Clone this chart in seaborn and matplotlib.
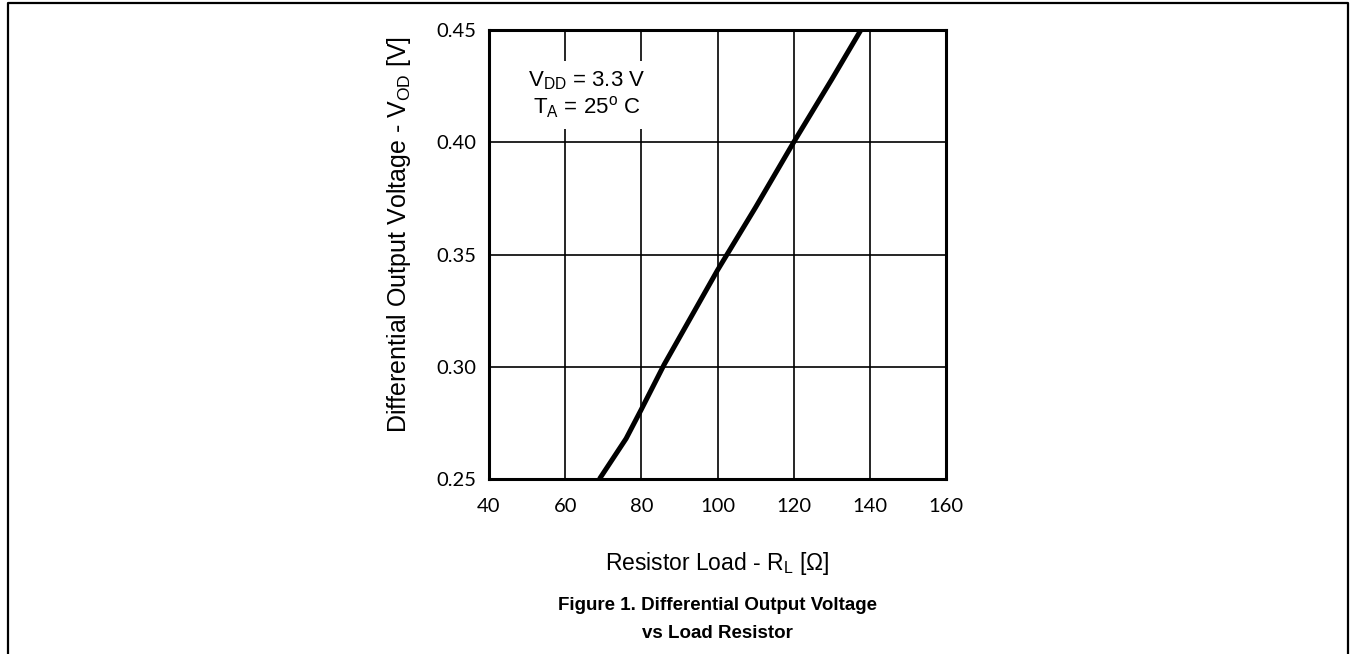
import pandas as pd
import matplotlib.pyplot as plt
import matplotlib.lines as mlines
import seaborn as sns

# Values
load_ohm = [69, 76, 80, 86, 90, 100, 110, 120, 130, 138]
vod_volt = [0.250, 0.268, 0.281, 0.301, 0.313, 0.343, 0.371, 0.400, 0.428, 0.451]

x_ticks = [40, 60, 80, 100, 120, 140, 160]
y_ticks = [0.25, 0.30, 0.35, 0.40, 0.45]

df = pd.DataFrame({'RL': load_ohm, 'VOD': vod_volt})

sns.set_style('white')
plt.rcParams['font.family'] = ['Liberation Sans', 'DejaVu Sans']
plt.rcParams['text.color'] = 'black'
plt.rcParams['axes.labelcolor'] = 'black'
plt.rcParams['mathtext.fontset'] = 'custom'
plt.rcParams['mathtext.rm'] = 'Liberation Sans'
plt.rcParams['mathtext.it'] = 'Liberation Sans:italic'
plt.rcParams['mathtext.bf'] = 'Liberation Sans:bold'

fig = plt.figure(figsize=(13.53, 6.54), dpi=100)
ax = fig.add_axes([489 / 1353, 1 - 479 / 654, 457 / 1353, 449 / 654])

sns.lineplot(data=df, x='RL', y='VOD', ax=ax, color='black', linewidth=3.6,
             solid_capstyle='butt', zorder=3)

ax.set_xlim(40, 160)
ax.set_ylim(0.25, 0.45)
ax.set_xticks(x_ticks)
ax.set_yticks(y_ticks)
ax.set_yticklabels([f'{v:.2f}' for v in y_ticks])
ax.grid(True, color='black', linewidth=1.2)
ax.set_axisbelow(True)
for s in ax.spines.values():
    s.set_visible(True)
    s.set_color('black')
    s.set_linewidth(2.2)
ax.tick_params(axis='both', length=0, labelsize=14.5, colors='black')
ax.tick_params(axis='y', pad=9)
ax.tick_params(axis='x', pad=14)
for lab in ax.get_xticklabels() + ax.get_yticklabels():
    lab.set_fontfamily(['Lato', 'DejaVu Sans'])

ax.set_xlabel(r'Resistor Load - R$_{\mathrm{L}}$ [Ω]', fontsize=16.5, labelpad=25)
ax.set_ylabel(r'Differential Output Voltage - V$_{\mathrm{OD}}$ [V]', fontsize=18,
              labelpad=15)
ax.yaxis.set_label_coords(-0.166, 0.545)

ax.text(0.2144, 0.856, 'V$_{\\mathrm{DD}}$ = 3.3 V\nT$_{\\mathrm{A}}$ = 25$^{\\mathrm{o}}$ C',
        transform=ax.transAxes, ha='center', va='center', fontsize=16,
        linespacing=1.15, zorder=4,
        bbox=dict(facecolor='white', edgecolor='none', pad=6))

fig.text(717 / 1353, 1 - 606 / 654, 'Figure 1. Differential Output Voltage',
         ha='center', va='center', fontsize=13.5, fontweight='bold',
         family=['Liberation Sans', 'DejaVu Sans'])
fig.text(717 / 1353, 1 - 634 / 654, 'vs Load Resistor',
         ha='center', va='center', fontsize=13.5, fontweight='bold',
         family=['Liberation Sans', 'DejaVu Sans'])

# page frame around the figure (open at the bottom)
xl, xr, yt = 8 / 1353, 1348 / 1353, 1 - 3 / 654
fig.add_artist(mlines.Line2D([xl, xl, xr, xr], [0, yt, yt, 0],
                             transform=fig.transFigure, color='black',
                             linewidth=1.6))

fig.savefig('out.png', dpi=100, facecolor='white')
